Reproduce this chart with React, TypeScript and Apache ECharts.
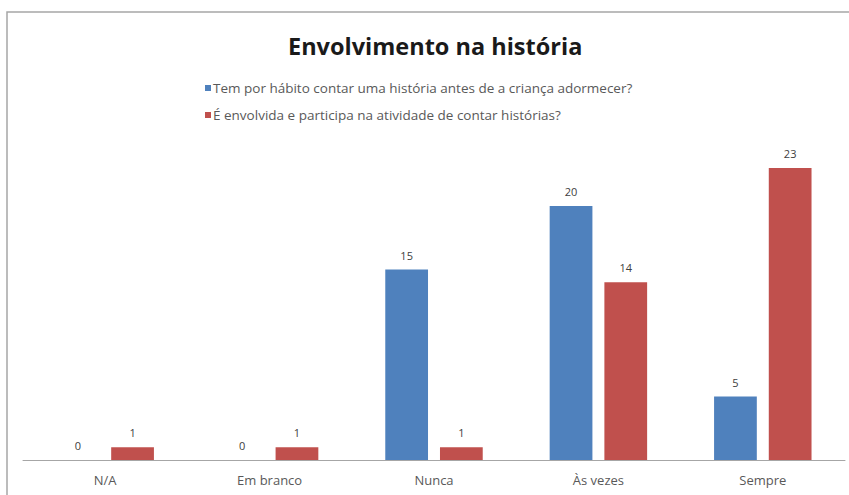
import React, { useEffect, useRef } from "react";
import * as echarts from "echarts";

const categories = ["N/A", "Em branco", "Nunca", "Às vezes", "Sempre"];
const seriesNames = [
  "Tem por hábito contar uma história antes de a criança adormecer?",
  "É envolvida e participa na atividade de contar histórias?",
];
const habitValues = [0, 0, 15, 20, 5];
const involvedValues = [1, 1, 1, 14, 23];

export default function App() {
  const ref = useRef<HTMLDivElement>(null);
  useEffect(() => {
    if (!ref.current) return;
    const chart = echarts.init(ref.current, null, { renderer: "svg" });
    const font = "'Open Sans', sans-serif";
    const labelStyle = {
      show: true,
      position: "top",
      distance: 9,
      fontFamily: font,
      fontSize: 11,
      color: "#404040",
      textBorderWidth: 0,
    };
    chart.setOption({
      animation: false,
      backgroundColor: "#ffffff",
      title: {
        text: "Envolvimento na história",
        left: 283,
        top: 29,
        textStyle: { fontFamily: font, fontSize: 23.5, fontWeight: "bold", color: "#1a1a1a" },
      },
      legend: {
        orient: "vertical",
        left: 200,
        top: 76,
        itemWidth: 6,
        itemHeight: 6,
        itemGap: 13,
        icon: "rect",
        textStyle: { fontFamily: font, fontSize: 13.5, color: "#595959", padding: [0, 0, 0, -3] },
        data: seriesNames,
      },
      graphic: [
        {
          type: "rect",
          shape: { x: 7, y: 12, width: 860, height: 500 },
          style: { fill: "none", stroke: "#a6a6a6", lineWidth: 1.5 },
          silent: true,
        },
      ],
      grid: { left: 23, right: 4, top: 142.5, bottom: 35 },
      xAxis: {
        type: "category",
        data: categories,
        axisTick: { show: false },
        axisLine: { lineStyle: { color: "#a6a6a6", width: 1 } },
        axisLabel: { fontFamily: font, fontSize: 13, color: "#595959", margin: 13 },
      },
      yAxis: {
        type: "value",
        min: 0,
        max: 25,
        show: false,
        splitLine: { show: false },
      },
      series: [
        {
          name: seriesNames[0],
          type: "bar",
          data: habitValues,
          barWidth: "26%",
          barGap: "28%",
          itemStyle: { color: "#4f81bd" },
          label: labelStyle,
        },
        {
          name: seriesNames[1],
          type: "bar",
          data: involvedValues,
          barWidth: "26%",
          itemStyle: { color: "#c0504d" },
          label: labelStyle,
        },
      ],
    });
    return () => chart.dispose();
  }, []);
  return <div ref={ref} style={{ width: 849, height: 495, position: "absolute", left: 0, top: 0 }} />;
}
